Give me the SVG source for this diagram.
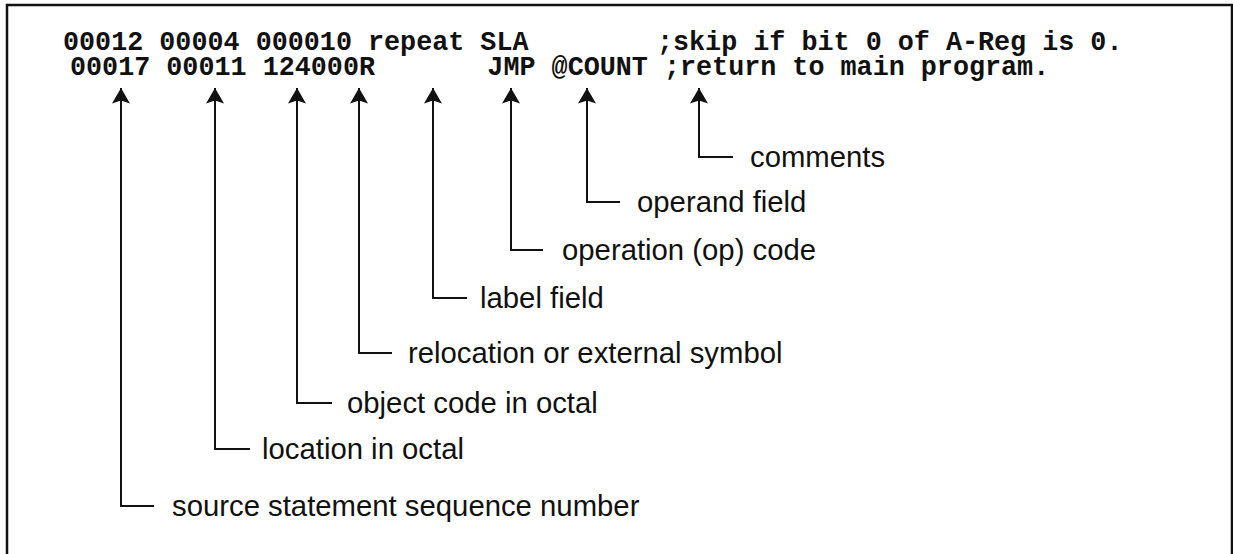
<svg xmlns="http://www.w3.org/2000/svg" width="1233" height="554" viewBox="0 0 1233 554">
<defs>
<style>
.code{font-family:"Liberation Mono","Courier New",monospace;font-weight:bold;font-size:26.75px;fill:#111;white-space:pre}
.lbl{font-family:"Liberation Sans",Arial,Helvetica,sans-serif;font-size:29.3px;fill:#111}
.ln{stroke:#111;stroke-width:2;fill:none}
.frame{stroke:#111;stroke-width:2.5;fill:none}
</style>
<marker id="ah" viewBox="0 0 18 16" refX="9" refY="0" markerWidth="18" markerHeight="16" markerUnits="userSpaceOnUse" orient="0">
<path d="M9,0 L18,15.5 L9,12.5 L0,15.5 Z" fill="#111"/>
</marker>
</defs>
<rect width="1233" height="554" fill="#fff"/>
<path class="frame" d="M7,554 L7,5 L1232,5 L1232,554"/>
<g id="code">
<text class="code" x="63" y="50" xml:space="preserve">00012 00004 000010 repeat SLA        ;skip if bit 0 of A-Reg is 0.</text>
<text class="code" x="70" y="75" xml:space="preserve">00017 00011 124000R       JMP @COUNT ;return to main program.</text>
</g>
<g id="connectors">
<path class="ln" marker-start="url(#ah)" d="M121,88 L121,506 L154,506"/>
<path class="ln" marker-start="url(#ah)" d="M215,88 L215,449 L250,449"/>
<path class="ln" marker-start="url(#ah)" d="M297,88 L297,403 L332,403"/>
<path class="ln" marker-start="url(#ah)" d="M359,88 L359,353 L392,353"/>
<path class="ln" marker-start="url(#ah)" d="M433,88 L433,298 L467,298"/>
<path class="ln" marker-start="url(#ah)" d="M511,88 L511,250 L543,250"/>
<path class="ln" marker-start="url(#ah)" d="M587,88 L587,202 L620,202"/>
<path class="ln" marker-start="url(#ah)" d="M699,88 L699,157 L733,157"/>
</g>
<g id="n-comments"><text class="lbl" x="750" y="167">comments</text></g>
<g id="n-operand"><text class="lbl" x="637" y="212">operand field</text></g>
<g id="n-opcode"><text class="lbl" x="562" y="260">operation (op) code</text></g>
<g id="n-label"><text class="lbl" x="480" y="308">label field</text></g>
<g id="n-relocation"><text class="lbl" x="408" y="363">relocation or external symbol</text></g>
<g id="n-object"><text class="lbl" x="347" y="413">object code in octal</text></g>
<g id="n-location"><text class="lbl" x="262" y="459">location in octal</text></g>
<g id="n-source"><text class="lbl" x="172" y="516">source statement sequence number</text></g>
</svg>
